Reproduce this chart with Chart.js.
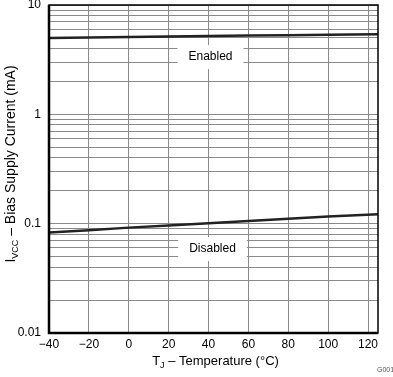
<!DOCTYPE html>
<html>
<head>
  <meta charset="UTF-8">
  <title>Bias Supply Current vs Temperature</title>
  <script src="https://cdn.jsdelivr.net/npm/chart.js"></script>
  <style>
    html, body { margin: 0; padding: 0; background: #fff; }
    #wrap { width: 393px; height: 377px; }
  </style>
</head>
<body>
  <div id="wrap"><canvas id="biasChart" width="393" height="377"></canvas></div>

  <script>
    // values
    const temps = [-40, -20, 0, 20, 40, 60, 80, 100, 125];
    const enabledCurrent = [5.0, 5.05, 5.1, 5.15, 5.2, 5.25, 5.3, 5.35, 5.4];
    const disabledCurrent = [0.083, 0.087, 0.092, 0.096, 0.101, 0.106, 0.111, 0.116, 0.122];
    const xTicks = [-40, -20, 0, 20, 40, 60, 80, 100, 120];
    const yMajor = [0.01, 0.1, 1, 10];
    const yTicks = [];
    yMajor.slice(0, 3).forEach(d => { for (let k = 1; k < 10; k++) yTicks.push(+(d * k).toPrecision(3)); });
    yTicks.push(10);

    const FONT = '"Liberation Sans", Arial, sans-serif';

    const decor = {
      id: 'decor',
      afterDatasetsDraw(chart) {
        const { ctx, chartArea: a, scales } = chart;
        ctx.save();
        // labels with white boxes
        const box = (text, x, y) => {
          ctx.font = '12px ' + FONT;
          const w = ctx.measureText(text).width + 22;
          ctx.fillStyle = '#fff';
          ctx.fillRect(x - w / 2, y - 12, w, 24);
          ctx.fillStyle = '#000';
          ctx.textAlign = 'center';
          ctx.textBaseline = 'middle';
          ctx.fillText(text, x, y);
        };
        box('Enabled', scales.x.getPixelForValue(41), scales.y.getPixelForValue(3.34));
        box('Disabled', scales.x.getPixelForValue(42), scales.y.getPixelForValue(0.0586));

        // frame
        ctx.strokeStyle = '#000';
        ctx.lineWidth = 1.5;
        ctx.strokeRect(a.left, a.top, a.right - a.left, a.bottom - a.top);
        ctx.lineWidth = 2.5;
        ctx.beginPath();
        ctx.moveTo(a.left, a.top);
        ctx.lineTo(a.left, a.bottom);
        ctx.lineTo(a.right, a.bottom);
        ctx.stroke();
        ctx.restore();
      },
      afterDraw(chart) {
        const { ctx, chartArea: a } = chart;
        ctx.save();
        ctx.fillStyle = '#000';
        ctx.textBaseline = 'alphabetic';
        // x title with subscript J
        const xt = [['T', 13, 0], ['J', 9, 3], [' \u2013 Temperature (\u00B0C)', 13, 0]];
        let tw = 0;
        xt.forEach(p => { ctx.font = p[1] + 'px ' + FONT; tw += ctx.measureText(p[0]).width; });
        let x = (a.left + a.right) / 2 - tw / 2 + 2;
        xt.forEach(p => {
          ctx.font = p[1] + 'px ' + FONT;
          ctx.fillText(p[0], x, 365 + p[2]);
          x += ctx.measureText(p[0]).width;
        });
        // y title with subscript VCC
        const yt = [['I', 14, 0], ['VCC', 9, 3], [' \u2013 Bias Supply Current (mA)', 14, 0]];
        tw = 0;
        yt.forEach(p => { ctx.font = p[1] + 'px ' + FONT; tw += ctx.measureText(p[0]).width; });
        ctx.translate(15, 164);
        ctx.rotate(-Math.PI / 2);
        x = -tw / 2;
        yt.forEach(p => {
          ctx.font = p[1] + 'px ' + FONT;
          ctx.fillText(p[0], x, p[2]);
          x += ctx.measureText(p[0]).width;
        });
        ctx.restore();
        // figure id
        ctx.save();
        ctx.font = '7px ' + FONT;
        ctx.fillStyle = '#555';
        ctx.fillText('G001', 377, 372);
        ctx.restore();
      }
    };

    new Chart(document.getElementById('biasChart'), {
      type: 'line',
      data: {
        labels: temps,
        datasets: [
          { label: 'Enabled', data: temps.map((t, i) => ({ x: t, y: enabledCurrent[i] })) },
          { label: 'Disabled', data: temps.map((t, i) => ({ x: t, y: disabledCurrent[i] })) }
        ]
      },
      options: {
        responsive: false,
        animation: false,
        layout: { padding: { left: 0, top: 5, right: 15, bottom: 0 } },
        elements: {
          line: { borderColor: '#222', borderWidth: 2.5, tension: 0 },
          point: { radius: 0 }
        },
        plugins: { legend: { display: false }, tooltip: { enabled: false } },
        scales: {
          x: {
            type: 'linear',
            min: -40,
            max: 125,
            afterBuildTicks: s => { s.ticks = xTicks.map(v => ({ value: v })); },
            afterFit: s => { s.height = 44; s.paddingLeft = 0; s.paddingRight = 0; },
            grid: { color: '#8a8a8a', lineWidth: 1, drawTicks: false },
            border: { display: false },
            ticks: {
              color: '#000',
              font: { family: FONT, size: 12 },
              padding: 4,
              maxRotation: 0,
              autoSkip: false,
              callback: v => String(v).replace('-', '\u2212')
            }
          },
          y: {
            type: 'logarithmic',
            min: 0.01,
            max: 10,
            afterBuildTicks: s => { s.ticks = yTicks.map(v => ({ value: v })); },
            afterFit: s => { s.width = 49; s.paddingTop = 0; s.paddingBottom = 0; },
            grid: { color: '#8a8a8a', lineWidth: 1, drawTicks: false },
            border: { display: false },
            ticks: {
              color: '#000',
              font: { family: FONT, size: 12 },
              padding: 8,
              autoSkip: false,
              callback: v => yMajor.includes(v) ? String(v) : ''
            }
          }
        }
      },
      plugins: [decor]
    });
  </script>
</body>
</html>
